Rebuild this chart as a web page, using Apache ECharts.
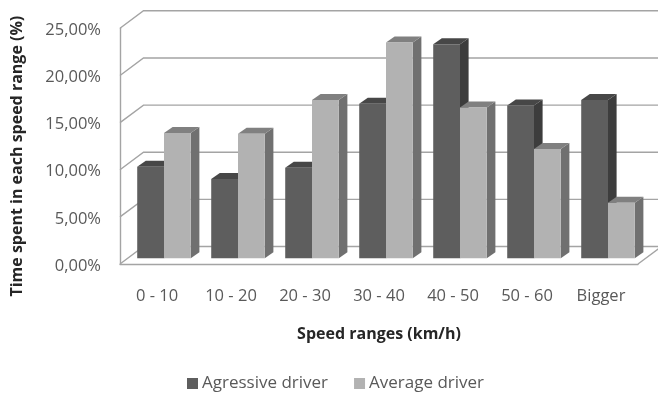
<!DOCTYPE html>
<html>
<head>
<meta charset="utf-8">
<style>html,body{margin:0;padding:0;background:#fff}#chart{width:658px;height:394px}</style>
<script src="https://cdn.jsdelivr.net/npm/echarts@6/dist/echarts.min.js"></script>
</head>
<body>
<div id="chart"></div>
<script>
const categories = ['0 - 10', '10 - 20', '20 - 30', '30 - 40', '40 - 50', '50 - 60', 'Bigger'];
const aggressiveValues = [9.7, 8.4, 9.6, 16.4, 22.7, 16.2, 16.8];
const averageValues = [13.3, 13.2, 16.8, 22.9, 16.0, 11.6, 5.9];
const tickValues = [0, 5, 10, 15, 20, 25];

// Depth of the chart box and of each column, in pixels.
const WALL_DX = 23.5, WALL_DY = 17.5;
const BAR_DX = 8.6, BAR_DY = 6;
const BAR_SHIFT_X = 7, BAR_SHIFT_Y = 5.7;
const BAR_RATIO = 0.362;

const chart = echarts.init(document.getElementById('chart'));

// Perspective gridlines: floor/wall diagonal plus the line along the back wall.
function renderWall(params, api) {
  const box = params.coordSys;
  const y = api.coord([0, api.value(1)])[1];
  const left = box.x, right = box.x + box.width;
  const children = [{
    type: 'polyline',
    shape: { points: [[left, y], [left + WALL_DX, y - WALL_DY], [right + WALL_DX, y - WALL_DY]] },
    style: { fill: null, stroke: '#a4a4a4', lineWidth: 1.4 }
  }];
  if (api.value(1) === 0) {
    children.push({
      type: 'line',
      shape: { x1: right, y1: y, x2: right + WALL_DX, y2: y - WALL_DY },
      style: { stroke: '#a4a4a4', lineWidth: 1.4 }
    });
  }
  return { type: 'group', children };
}

// Column with front, top and side faces; slot 0 sits left of the category centre, slot 1 right.
function columnRenderer(slot, front, top, side) {
  return function (params, api) {
    const idx = api.value(0);
    const head = api.coord([idx, api.value(1)]);
    const foot = api.coord([idx, 0]);
    const w = api.size([1, 0])[0] * BAR_RATIO;
    const x0 = head[0] + BAR_SHIFT_X + (slot - 1) * w;
    const x1 = x0 + w;
    const yT = head[1] - BAR_SHIFT_Y;
    const yB = foot[1] - BAR_SHIFT_Y;
    return {
      type: 'group',
      children: [
        { type: 'polygon', shape: { points: [[x1, yT], [x1 + BAR_DX, yT - BAR_DY], [x1 + BAR_DX, yB - BAR_DY], [x1, yB]] }, style: { fill: side } },
        { type: 'polygon', shape: { points: [[x0, yT], [x0 + BAR_DX, yT - BAR_DY], [x1 + BAR_DX, yT - BAR_DY], [x1, yT]] }, style: { fill: top } },
        { type: 'rect', shape: { x: x0, y: yT, width: w, height: yB - yT }, style: { fill: front } }
      ]
    };
  };
}

const labelColor = '#595959';
const titleColor = '#262626';
const fontFamily = '"Open Sans", Lato, sans-serif';

chart.setOption({
  animation: false,
  backgroundColor: '#ffffff',
  grid: { left: 120, right: 20, top: 28.3, bottom: 130, outerBoundsMode: 'none' },
  legend: {
    data: ['Agressive driver', 'Average driver'],
    left: 182, top: 370,
    icon: 'rect', itemWidth: 11, itemHeight: 11, itemGap: 26,
    textStyle: { color: labelColor, fontFamily, fontSize: 17, padding: [0, 0, 0, -1] }
  },
  xAxis: {
    type: 'category',
    data: categories,
    name: 'Speed ranges (km/h)',
    nameLocation: 'middle',
    nameGap: 62,
    nameTextStyle: { color: titleColor, fontFamily, fontSize: 16, fontWeight: 'bold' },
    axisLine: { lineStyle: { color: '#a4a4a4', width: 1.4 } },
    axisTick: { show: false },
    axisLabel: { color: labelColor, fontFamily, fontSize: 16.5, margin: 24 }
  },
  yAxis: {
    type: 'value',
    min: 0, max: 25, interval: 5,
    name: 'Time spent in each speed range (%)',
    nameLocation: 'middle',
    nameGap: 95,
    nameTextStyle: { color: titleColor, fontFamily, fontSize: 16, fontWeight: 'bold', padding: [0, 20, 0, 0] },
    axisLine: { show: true, lineStyle: { color: '#a4a4a4', width: 1.4 } },
    axisTick: { show: false },
    splitLine: { show: false },
    axisLabel: {
      margin: 19,
      formatter: v => '{tick|' + v.toFixed(2).replace('.', ',') + '%}',
      rich: { tick: { color: labelColor, fontFamily, fontSize: 16.5, padding: [4, 0, 0, 0] } }
    }
  },
  series: [
    {
      type: 'custom', name: 'wall', silent: true, clip: false, z: 1,
      data: tickValues.map(v => [0, v]),
      encode: { x: 0, y: 1 },
      renderItem: renderWall
    },
    {
      type: 'custom', name: 'Agressive driver', clip: false, z: 2,
      itemStyle: { color: '#5e5e5e' },
      data: aggressiveValues.map((v, i) => [i, v]),
      encode: { x: 0, y: 1 },
      renderItem: columnRenderer(0, '#5e5e5e', '#474747', '#3d3d3d')
    },
    {
      type: 'custom', name: 'Average driver', clip: false, z: 3,
      itemStyle: { color: '#b2b2b2' },
      data: averageValues.map((v, i) => [i, v]),
      encode: { x: 0, y: 1 },
      renderItem: columnRenderer(1, '#b2b2b2', '#808080', '#707070')
    }
  ]
});
</script>
</body>
</html>
